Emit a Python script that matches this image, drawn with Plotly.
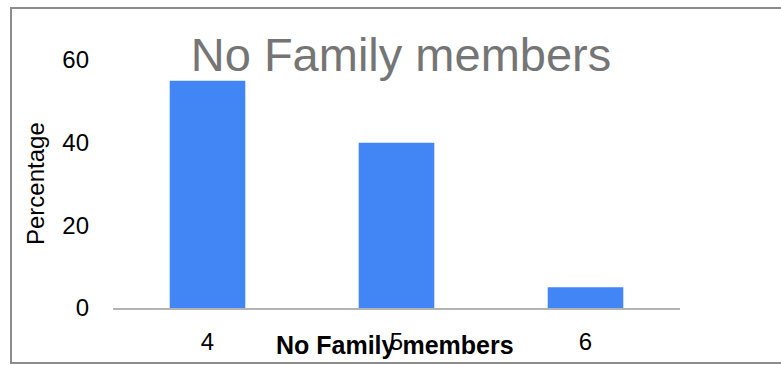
import plotly.graph_objects as go

# Household size distribution
members = ["4", "5", "6"]
percentage = [55, 40, 5]
y_ticks = [0, 20, 40, 60]

FONT = "Liberation Sans, Arial, sans-serif"

fig = go.Figure(
    go.Bar(
        x=members,
        y=percentage,
        width=0.4,
        marker=dict(color="#4285f4", line=dict(width=0)),
        hoverinfo="x+y",
    )
)

fig.update_layout(
    width=781,
    height=365,
    margin=dict(l=113, r=101, t=60, b=57, autoexpand=False),
    paper_bgcolor="white",
    plot_bgcolor="white",
    showlegend=False,
    font=dict(family=FONT, color="#000000"),
    title=dict(
        text="No Family members",
        font=dict(family=FONT, size=47, color="#757575"),
        x=401 / 781,
        xanchor="center",
        xref="container",
        y=(365 - 55) / 365,
        yanchor="middle",
        yref="container",
    ),
    bargap=0.6,
)

fig.update_xaxes(
    type="category",
    showline=True,
    linecolor="#b3b3b3",
    linewidth=2,
    showgrid=False,
    zeroline=False,
    ticks="",
    tickfont=dict(family=FONT, size=24, color="#000000"),
    ticklabelstandoff=11,
)

fig.update_yaxes(
    range=[0, 60],
    tickvals=y_ticks,
    showgrid=False,
    zeroline=False,
    showline=False,
    ticks="",
    tickfont=dict(family=FONT, size=24, color="#000000"),
    ticklabelstandoff=23,
)

# Axis titles
fig.add_annotation(
    text="<b>No Family members</b>",
    xref="paper", yref="paper",
    x=(395 - 113) / 567, y=(308 - 345) / 248,
    xanchor="center", yanchor="middle",
    showarrow=False,
    font=dict(family=FONT, size=25, color="#000000"),
)
fig.add_annotation(
    text="Percentage",
    xref="paper", yref="paper",
    x=(35 - 113) / 567, y=0.5,
    xanchor="center", yanchor="middle",
    textangle=-90,
    showarrow=False,
    font=dict(family=FONT, size=24, color="#000000"),
)

# Chart frame
fig.add_shape(
    type="rect",
    xref="paper", yref="paper",
    x0=(11 - 113) / 567, x1=(790 - 113) / 567,
    y0=(308 - 363) / 248, y1=(308 - 8) / 248,
    line=dict(color="#8c8c8c", width=2),
    fillcolor="rgba(0,0,0,0)",
    layer="below",
)

fig.write_html("out.html")
